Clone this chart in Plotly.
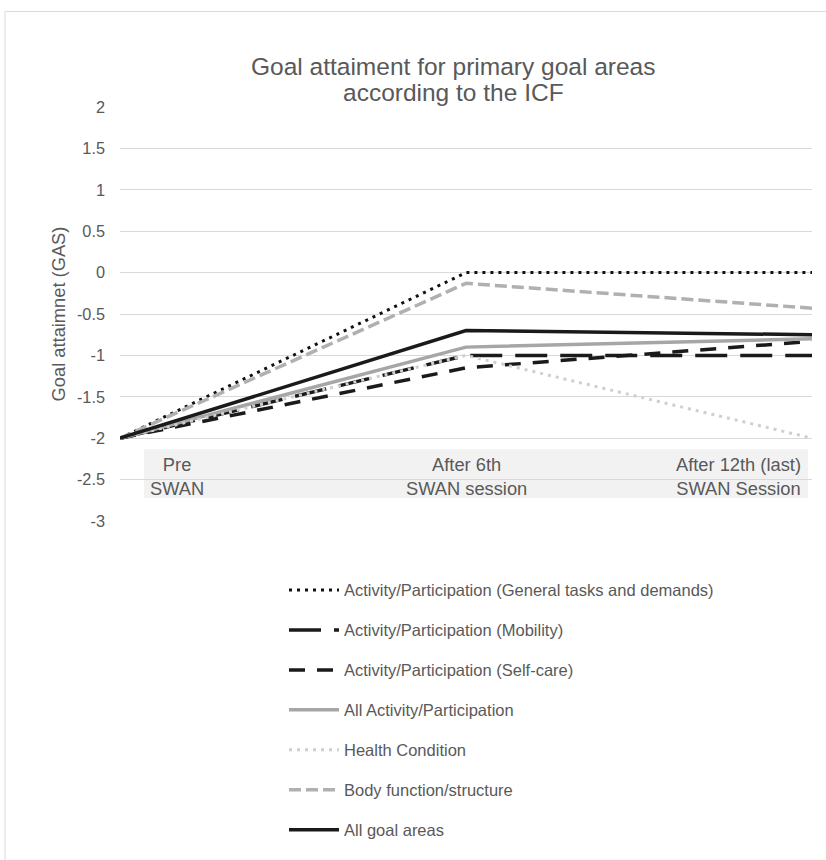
import plotly.graph_objects as go

# Measurement points and their display labels
categories = ["Pre", "After 6th", "After 12th"]
category_labels = ["Pre<br>SWAN", "After 6th<br>SWAN session", "After 12th (last)<br>SWAN Session"]

# Goal attainment scores (GAS) per ICF goal area
general_tasks = [-2, 0, 0]
mobility = [-2, -1, -1]
self_care = [-2, -1.15, -0.83]
all_activity = [-2, -0.9, -0.8]
health_condition = [-2, -1, -2]
body_function = [-2, -0.13, -0.43]
all_goal_areas = [-2, -0.7, -0.75]

y_ticks = [2, 1.5, 1, 0.5, 0, -0.5, -1, -1.5, -2, -2.5, -3]

title_lines = ["Goal attaiment for primary goal areas", "according to the ICF"]
y_title = "Goal attaimnet (GAS)"

series = [
    ("Activity/Participation (General tasks and demands)", general_tasks, "#111111", "3px,5px", 3),
    ("Activity/Participation (Mobility)", mobility, "#1a1a1a", "32px,13px", 3.5),
    ("Activity/Participation (Self-care)", self_care, "#1a1a1a", "16px,12px", 3.5),
    ("All Activity/Participation", all_activity, "#A6A6A6", "solid", 3.5),
    ("Health Condition", health_condition, "#CFCFCF", "3px,5px", 3),
    ("Body function/structure", body_function, "#B0B0B0", "12px,5px", 3.5),
    ("All goal areas", all_goal_areas, "#1a1a1a", "solid", 3.5),
]

TEXT = "#595959"
FONT = "Liberation Sans, Arial, sans-serif"

# plot area in pixels (used for paper-coordinate placement of extras)
L, R, T, B = 120, 812, 107, 523
W_PLOT, H_PLOT = R - L, B - T


def px_x(p):
    return (p - L) / W_PLOT


def px_y(p):
    return (B - p) / H_PLOT


fig = go.Figure()
x_pos = list(range(len(categories)))
for i, (name, vals, color, dash, width) in enumerate(series):
    fig.add_trace(go.Scatter(
        x=x_pos, y=vals, name=name, mode="lines",
        line=dict(color=color, dash=dash, width=width),
        legendgroup=f"g{i}",
    ))

# grey band behind the category labels
fig.add_shape(type="rect", xref="paper", yref="paper",
              x0=px_x(144), x1=px_x(808), y0=px_y(500), y1=px_y(451),
              fillcolor="#F2F2F2", line=dict(width=0), layer="below")

label_pos = [("left", px_x(148)), ("center", px_x(467)), ("right", px_x(803))]
for lbl, (anchor, xp) in zip(category_labels, label_pos):
    fig.add_annotation(x=xp, y=px_y(478), xref="paper", yref="paper", text=lbl,
                       showarrow=False, xanchor=anchor, yanchor="middle", align="center",
                       font=dict(size=18.3, color=TEXT, family=FONT))

# chart title, two lines
for line, ypx in zip(title_lines, [66, 92]):
    fig.add_annotation(x=px_x(453), y=px_y(ypx), xref="paper", yref="paper", text=line,
                       showarrow=False, xanchor="center", yanchor="middle",
                       font=dict(size=24.5, color=TEXT, family=FONT))

# outer chart frame (only its top and left edges fall inside the page)
fig.add_shape(type="rect", xref="paper", yref="paper",
              x0=px_x(5), x1=px_x(828), y0=px_y(864), y1=px_y(11),
              line=dict(color="#D9D9D9", width=1), fillcolor="rgba(0,0,0,0)", layer="below")

fig.update_layout(
    width=826, height=860,
    margin=dict(l=L, r=826 - R, t=T, b=860 - B),
    paper_bgcolor="white", plot_bgcolor="white",
    font=dict(family=FONT, color=TEXT, size=16),
    xaxis=dict(range=[0, 2], showticklabels=False, showgrid=False, zeroline=False,
               showline=False, ticks=""),
    yaxis=dict(range=[-3, 2], tickvals=y_ticks, ticktext=[f"{v:g}" for v in y_ticks],
               showgrid=True, gridcolor="#D9D9D9", gridwidth=1, zeroline=False,
               showline=False, ticks="", ticklabelstandoff=14,
               tickfont=dict(size=16.3, color=TEXT),
               title=dict(text=y_title, font=dict(size=18.3, color=TEXT), standoff=6)),
    legend=dict(orientation="v", x=px_x(284), xanchor="left",
                y=px_y(575), yanchor="top",
                font=dict(size=16.5, color=TEXT, family=FONT),
                tracegroupgap=15.5, itemwidth=50, bgcolor="rgba(0,0,0,0)"),
    showlegend=True,
)

fig.write_html("out.html")
